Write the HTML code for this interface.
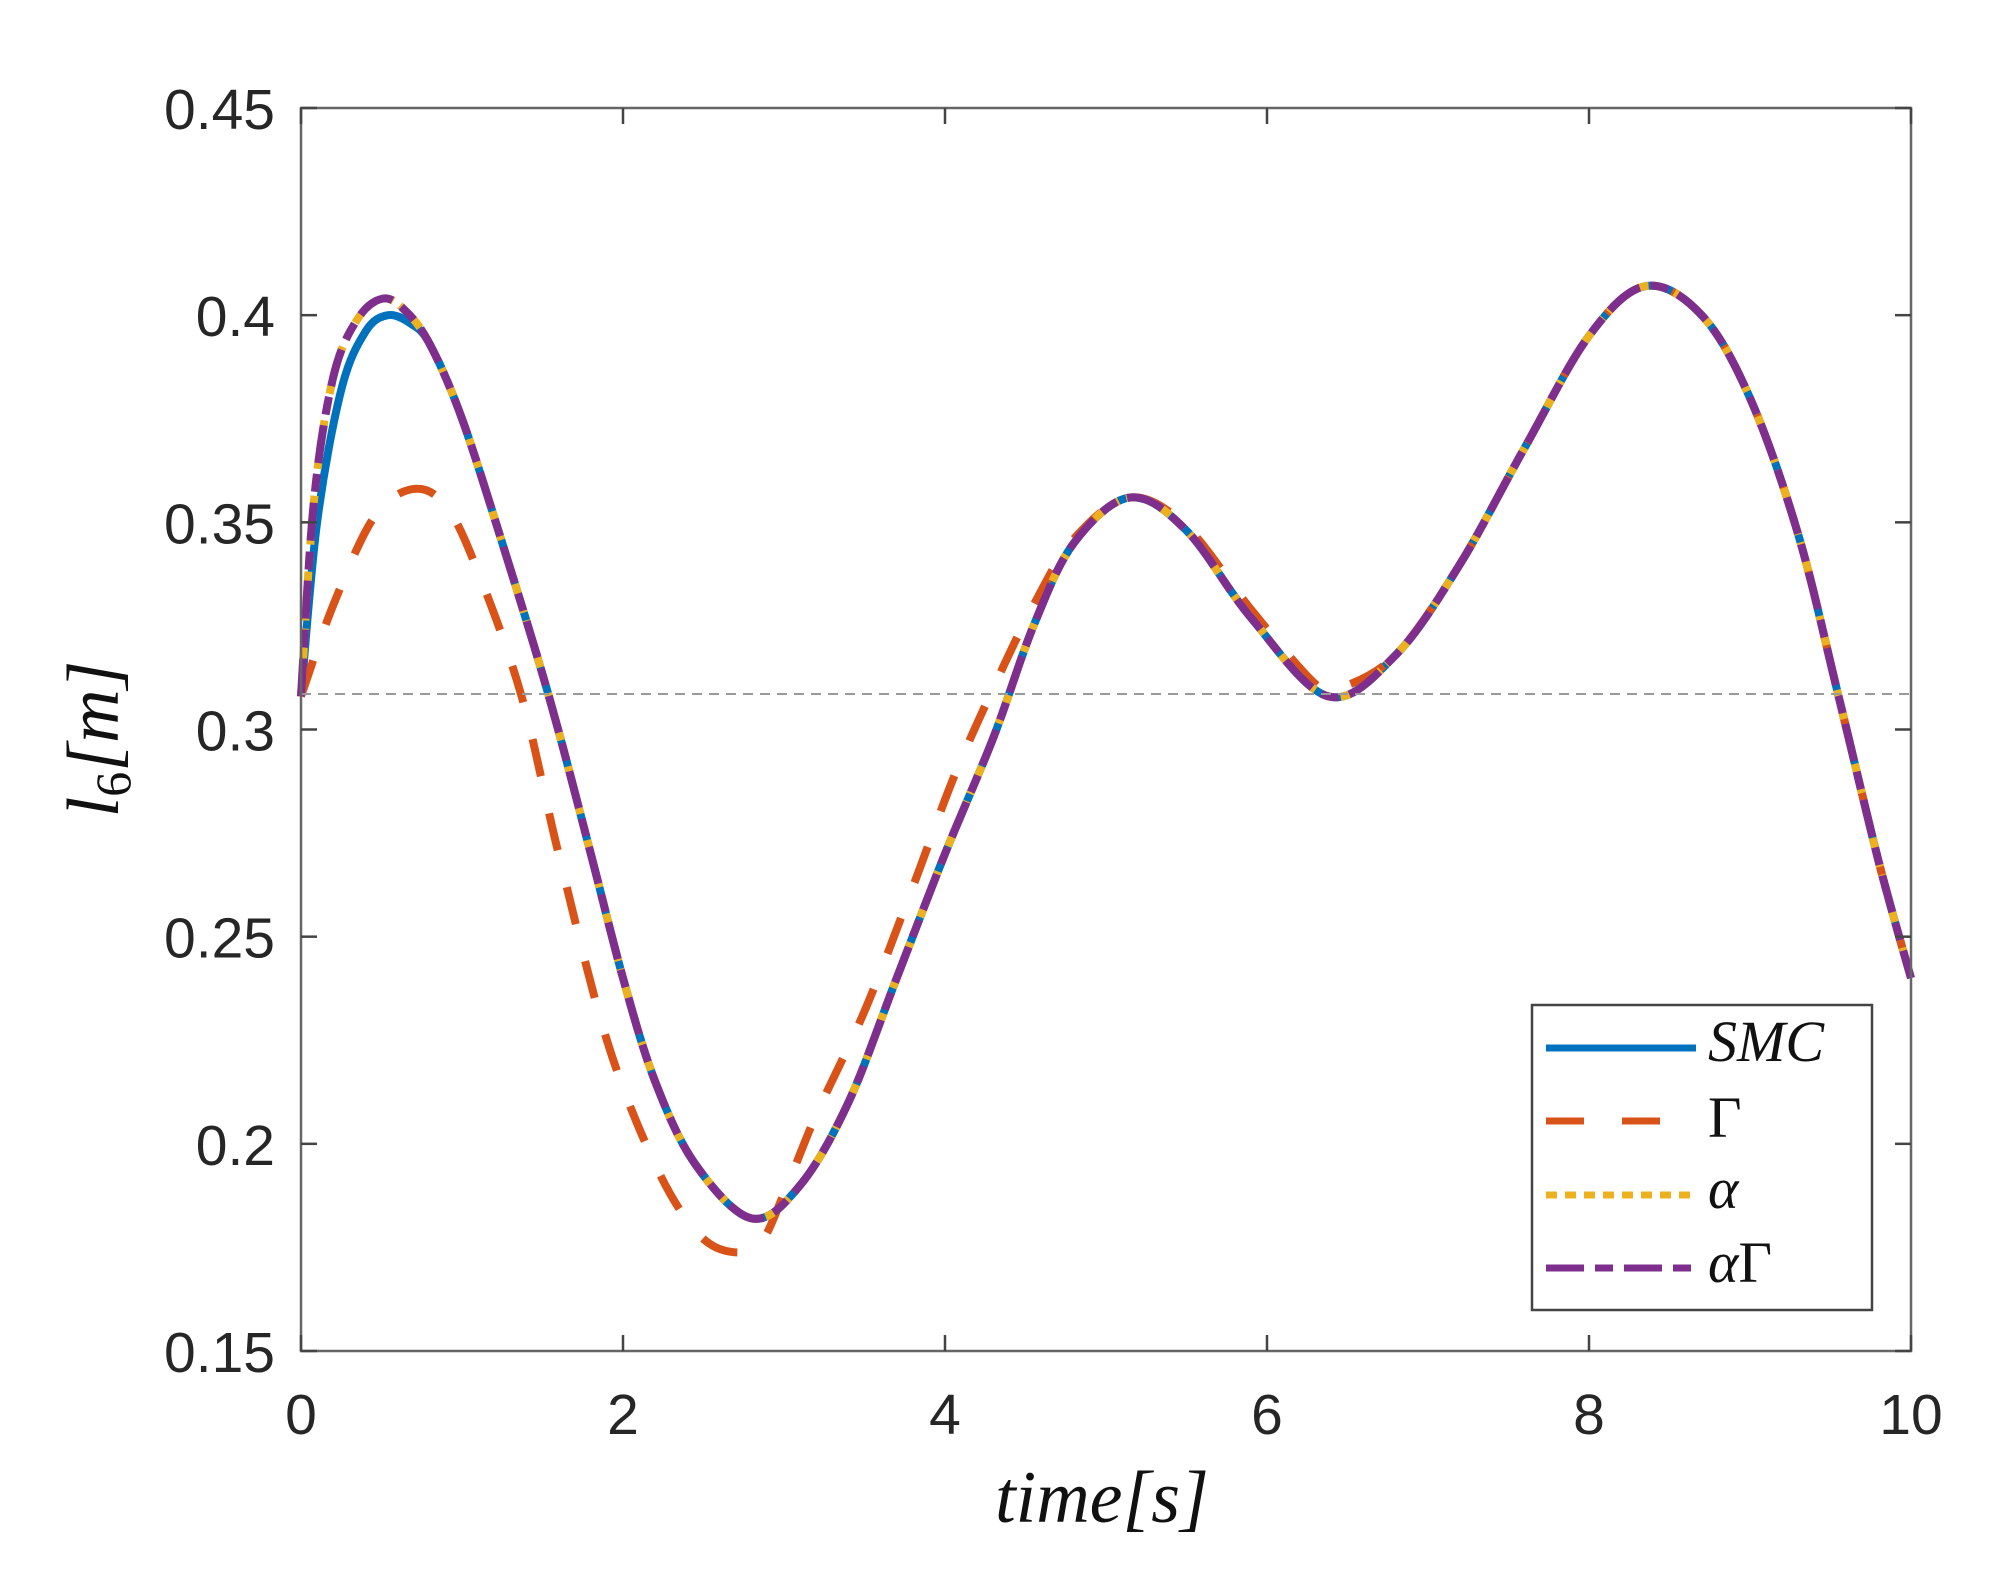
<!DOCTYPE html>
<html><head><meta charset="utf-8"><style>
html,body{margin:0;padding:0;background:#fff;}
svg{display:block;}
</style></head><body>
<svg id="s" width="2016" height="1576" xmlns="http://www.w3.org/2000/svg">
<rect width="2016" height="1576" fill="#fff"/>
<g id="curves"></g>
<line x1="301" y1="694" x2="1911" y2="694" stroke="#9a9a9a" stroke-width="2" stroke-dasharray="10,7"/>
<g id="axes" stroke="#666" stroke-width="2.5" fill="none">
<rect x="301" y="108" width="1610" height="1243"/>
</g>
<g id="ticks" stroke="#444" stroke-width="2.5"></g>
<g font-family="Liberation Sans, sans-serif" font-size="57" fill="#262626" id="labels"></g>
<text x="1102" y="1522" font-family="Liberation Serif, serif" font-style="italic" font-size="74" fill="#111" text-anchor="middle">time[s]</text>
<text transform="translate(118,739) rotate(-90)" font-family="Liberation Serif, serif" font-style="italic" font-size="74" fill="#111" text-anchor="middle">l<tspan font-size="50" dy="12" font-style="normal">6</tspan><tspan dy="-12">[m]</tspan></text>
<g id="legend">
<rect x="1532" y="1005" width="340" height="305" fill="#fff" stroke="#444" stroke-width="2.5"/>
<line x1="1546" y1="1048" x2="1696" y2="1048" stroke="#0072BD" stroke-width="7"/>
<line x1="1546" y1="1121" x2="1696" y2="1121" stroke="#D95319" stroke-width="7" stroke-dasharray="38,38"/>
<line x1="1546" y1="1195" x2="1696" y2="1195" stroke="#EDB120" stroke-width="7" stroke-dasharray="11,8"/>
<line x1="1546" y1="1268" x2="1696" y2="1268" stroke="#7E2F8E" stroke-width="7" stroke-dasharray="38,11,18,11"/>
<g font-family="Liberation Serif, serif" font-style="italic" font-size="58" fill="#111">
<text x="1708" y="1061">SMC</text>
<text x="1708" y="1137" font-style="normal">Γ</text>
<text x="1708" y="1208">α</text>
<text x="1708" y="1282">α<tspan font-style="normal">Γ</tspan></text>
</g>
</g>
</svg>
<script>
var L=301,R=1911,T=108,B=1351;
function X(t){return L+t*(R-L)/10;}
function Y(v){return B-(v-0.15)*(B-T)/0.3;}
var NS="http://www.w3.org/2000/svg";
function el(p,n,a){var e=document.createElementNS(NS,n);for(var k in a)e.setAttribute(k,a[k]);p.appendChild(e);return e;}
var tail=[[0.8,0.393],[1.0,0.375],[1.25,0.345],[1.54,0.308],[1.8,0.27],[2.0,0.24],[2.2,0.215],[2.45,0.195],[2.8,0.182],[3.1,0.19],[3.4,0.21],[3.7,0.24],[4.0,0.27],[4.3,0.298],[4.55,0.325],[4.8,0.345],[5.15,0.356],[5.5,0.348],[5.9,0.327],[6.38,0.308],[6.8,0.318],[7.2,0.34],[7.6,0.368],[8.0,0.395],[8.35,0.407],[8.7,0.4],[9.0,0.38],[9.3,0.347],[9.55,0.308],[9.8,0.268],[10,0.24]];
var main=[[0,0.308],[0.08,0.355],[0.2,0.385],[0.35,0.399],[0.51,0.404],[0.65,0.401]].concat(tail);
var smc=[[0,0.308],[0.1,0.35],[0.25,0.382],[0.4,0.396],[0.54,0.4],[0.68,0.398]].concat(tail);
var gam=[[0,0.308],[0.2,0.33],[0.45,0.351],[0.69,0.358],[0.9,0.354],[1.1,0.338],[1.37,0.308],[1.6,0.27],[1.9,0.225],[2.2,0.195],[2.45,0.179],[2.66,0.174],[2.85,0.176],[3.0,0.188],[3.2,0.207],[3.5,0.232],[3.8,0.262],[4.05,0.288],[4.3,0.31],[4.55,0.33],[4.8,0.346],[5.15,0.356],[5.5,0.349],[5.9,0.329],[6.3,0.311],[6.45,0.31],[6.8,0.318]].concat(tail.slice(21));
function path(pts){
 var P=pts.map(function(p){return [X(p[0]),Y(p[1])];});
 var d="M"+P[0][0].toFixed(1)+","+P[0][1].toFixed(1);
 for(var i=0;i<P.length-1;i++){
  var p0=P[Math.max(i-1,0)],p1=P[i],p2=P[i+1],p3=P[Math.min(i+2,P.length-1)];
  var c1=[p1[0]+(p2[0]-p0[0])/6,p1[1]+(p2[1]-p0[1])/6];
  var c2=[p2[0]-(p3[0]-p1[0])/6,p2[1]-(p3[1]-p1[1])/6];
  d+="C"+c1[0].toFixed(1)+","+c1[1].toFixed(1)+" "+c2[0].toFixed(1)+","+c2[1].toFixed(1)+" "+p2[0].toFixed(1)+","+p2[1].toFixed(1);
 }
 return d;
}
var g=document.getElementById("curves");
el(g,"path",{d:path(smc),stroke:"#0072BD","stroke-width":8,fill:"none"});
el(g,"path",{d:path(gam),stroke:"#D95319","stroke-width":8,fill:"none","stroke-dasharray":"38,38"});
el(g,"path",{d:path(main),stroke:"#EDB120","stroke-width":8,fill:"none","stroke-dasharray":"11,8"});
el(g,"path",{d:path(main),stroke:"#7E2F8E","stroke-width":8,fill:"none","stroke-dasharray":"38,11,18,11"});
var tk=document.getElementById("ticks"),lb=document.getElementById("labels");
for(var i=0;i<=5;i++){var x=X(i*2);
 el(tk,"line",{x1:x,y1:B,x2:x,y2:B-16});el(tk,"line",{x1:x,y1:T,x2:x,y2:T+16});
 var t=el(lb,"text",{x:x,y:1434,"text-anchor":"middle"});t.textContent=String(i*2);}
var yl=["0.15","0.2","0.25","0.3","0.35","0.4","0.45"];
for(var j=0;j<7;j++){var v=0.15+j*0.05,y=Y(v);
 el(tk,"line",{x1:L,y1:y,x2:L+16,y2:y});el(tk,"line",{x1:R,y1:y,x2:R-16,y2:y});
 var t2=el(lb,"text",{x:275,y:y+21,"text-anchor":"end"});t2.textContent=yl[j];}
</script>
</body></html>
